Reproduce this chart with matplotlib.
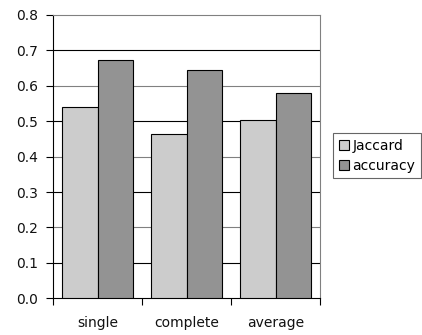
import matplotlib
matplotlib.use("Agg")
import matplotlib.pyplot as plt
import numpy as np
from matplotlib.patches import Patch

categories = ["single", "complete", "average"]
jaccard = [0.541, 0.463, 0.503]
accuracy = [0.673, 0.645, 0.579]
yticks = [0.0, 0.1, 0.2, 0.3, 0.4, 0.5, 0.6, 0.7, 0.8]

plt.rcParams["font.family"] = "DejaVu Sans"
fs = 10

fig = plt.figure(figsize=(4.22, 3.35), dpi=100)
ax = fig.add_axes([53 / 422, 1 - 298.3 / 335, (320 - 53) / 422, (298.3 - 15) / 335])

x = np.arange(len(categories))
w = 0.4
ax.bar(x - w / 2, jaccard, w, color="#cccccc", edgecolor="black", linewidth=0.8, zorder=3)
ax.bar(x + w / 2, accuracy, w, color="#939393", edgecolor="black", linewidth=0.8, zorder=3)

ax.set_xlim(-0.5, len(categories) - 0.5)
ax.set_ylim(0, 0.8)

# horizontal gridlines
for i, v in enumerate(yticks[1:-1], start=1):
    ax.axhline(v, color="black" if i % 2 else "#808080", linewidth=0.8, zorder=1)

ax.set_yticks(yticks)
ax.set_yticklabels([f"{v:.1f}" for v in yticks], fontsize=fs, color="#111111")
ax.set_xticks(np.arange(-0.5, len(categories), 1.0))
ax.set_xticklabels([])
ax.set_xticks(x, minor=True)
ax.set_xticklabels(categories, minor=True, fontsize=fs, color="#111111")
ax.tick_params(axis="x", which="minor", length=0, pad=13)
ax.tick_params(axis="x", which="major", length=5, width=0.8, direction="out")
ax.tick_params(axis="y", length=5, width=0.8, direction="out", pad=5.5)

ax.spines["left"].set_color("black")
ax.spines["bottom"].set_color("black")
ax.spines["top"].set_color("#808080")
ax.spines["right"].set_color("#808080")
for s in ax.spines.values():
    s.set_linewidth(0.8)

handles = [Patch(facecolor="#cccccc", edgecolor="black", linewidth=0.8, label="Jaccard"),
           Patch(facecolor="#939393", edgecolor="black", linewidth=0.8, label="accuracy")]
leg = fig.legend(handles=handles, loc="upper left",
                 bbox_to_anchor=(333 / 422, 1 - 133 / 335), fontsize=fs,
                 frameon=True, fancybox=False, handlelength=0.75, handleheight=0.75,
                 handletextpad=0.25, borderpad=0.4, labelspacing=0.45, borderaxespad=0)
leg.get_frame().set_edgecolor("#404040")
leg.get_frame().set_linewidth(0.8)

fig.savefig("out.png", dpi=100)
